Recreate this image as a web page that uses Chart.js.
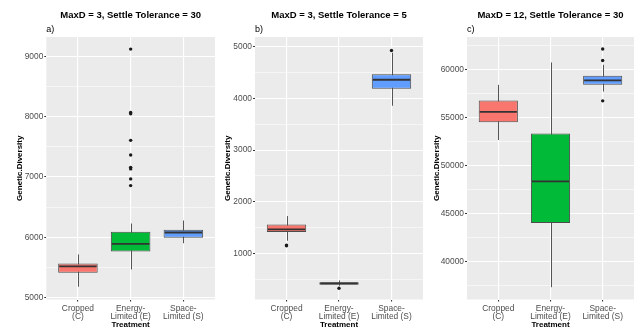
<!DOCTYPE html>
<html>
<head>
<meta charset="UTF-8">
<title>Genetic.Diversity by Treatment</title>
<script src="https://cdn.jsdelivr.net/npm/chart.js@4"></script>
<style>
    body { margin: 0; background: #fff; }
    #wrap { position: relative; width: 638px; height: 329px; }
    canvas { position: absolute; top: 0; }
</style>
</head>
<body>
<div id="wrap">
    <canvas id="chartA" width="219" height="329" style="left:0"></canvas>
    <canvas id="chartB" width="208" height="329" style="left:219px"></canvas>
    <canvas id="chartC" width="211" height="329" style="left:427px"></canvas>
</div>

<script>
    const treatments = [['Cropped', '(C)'], ['Energy-', 'Limited (E)'], ['Space-', 'Limited (S)']];

    // a) MaxD = 3, Settle Tolerance = 30
    const aWhiskerLow = [5177, 5464, 5900];
    const aQ1 = [5410, 5763, 5990];
    const aMedian = [5515, 5890, 6078];
    const aQ3 = [5564, 6090, 6123];
    const aWhiskerHigh = [5713, 6227, 6277];
    const aOutliers = [[], [9124, 8072, 8050, 7608, 7366, 7160, 7134, 6968, 6857], []];
    const aYTicks = [5000, 6000, 7000, 8000, 9000];

    // b) MaxD = 3, Settle Tolerance = 5
    const bWhiskerLow = [1246, 375, 3859];
    const bQ1 = [1413, 393, 4188];
    const bMedian = [1465, 419, 4362];
    const bQ3 = [1562, 444, 4471];
    const bWhiskerHigh = [1723, 477, 4885];
    const bOutliers = [[1161, 1150], [327], [4930]];
    const bYTicks = [1000, 2000, 3000, 4000, 5000];

    // c) MaxD = 12, Settle Tolerance = 30
    const cWhiskerLow = [52670, 37314, 57731];
    const cQ1 = [54518, 44014, 58429];
    const cMedian = [55602, 48353, 58890];
    const cQ3 = [56785, 53360, 59371];
    const cWhiskerHigh = [58429, 60764, 60524];
    const cOutliers = [[], [], [62167, 60974, 56760]];
    const cYTicks = [40000, 45000, 50000, 55000, 60000];

    const fills = ['#F8766D', '#00BA38', '#619CFF'];
    const fontFamily = "'Liberation Sans', Arial, sans-serif";
    const boxWidth = 0.75;

    // panel background, whiskers under the boxes, medians on top
    const boxParts = {
        id: 'boxParts',
        beforeDraw(chart) {
            const {ctx, chartArea: a} = chart;
            ctx.save();
            ctx.fillStyle = '#EBEBEB';
            ctx.fillRect(a.left, a.top, a.right - a.left, a.bottom - a.top);
            ctx.restore();
        },
        beforeDatasetsDraw(chart, args, opts) {
            const {ctx, scales: {x, y}} = chart;
            ctx.save();
            ctx.strokeStyle = '#555';
            ctx.lineWidth = 1;
            opts.low.forEach((lo, i) => {
                const px = Math.round(x.getPixelForValue(i + 1)) + 0.5;
                ctx.beginPath();
                ctx.moveTo(px, y.getPixelForValue(lo));
                ctx.lineTo(px, y.getPixelForValue(opts.high[i]));
                ctx.stroke();
            });
            ctx.restore();
        },
        afterDatasetsDraw(chart, args, opts) {
            const {ctx, scales: {x, y}} = chart;
            ctx.save();
            ctx.strokeStyle = '#333';
            ctx.lineWidth = 1.8;
            opts.med.forEach((m, i) => {
                const py = y.getPixelForValue(m);
                ctx.beginPath();
                ctx.moveTo(x.getPixelForValue(i + 1 - boxWidth / 2) + 1, py);
                ctx.lineTo(x.getPixelForValue(i + 1 + boxWidth / 2) - 1, py);
                ctx.stroke();
            });
            ctx.restore();
        }
    };

    function makeChart(id, p) {
        const step = p.ticks[1] - p.ticks[0];
        const boxes = p.q1.map((q, i) => ({x: i + 1, y: [q, p.q3[i]]}));
        const points = [];
        p.outliers.forEach((list, i) => list.forEach(v => points.push({x: i + 1, y: v})));

        return new Chart(document.getElementById(id), {
            type: 'bar',
            data: {
                datasets: [{
                    type: 'scatter',
                    data: points,
                    pointRadius: 1.7,
                    pointBackgroundColor: '#1a1a1a',
                    pointBorderWidth: 0
                }, {
                    data: boxes,
                    backgroundColor: fills,
                    borderColor: '#4d4d4d',
                    borderWidth: 1,
                    borderSkipped: false,
                    categoryPercentage: 1,
                    barPercentage: boxWidth
                }]
            },
            options: {
                responsive: false,
                animation: false,
                events: [],
                devicePixelRatio: 1,
                layout: {padding: {left: 0, right: p.rightPad, top: 0, bottom: 0}},
                plugins: {
                    legend: {display: false},
                    tooltip: {enabled: false},
                    title: {
                        display: true, text: p.title, fullSize: false, color: '#000',
                        font: {family: fontFamily, size: 9.5, weight: 'bold'},
                        padding: {top: 10, bottom: 2}
                    },
                    subtitle: {
                        display: true, text: p.tag, align: 'start', fullSize: false, color: '#000',
                        font: {family: fontFamily, size: 9},
                        padding: {top: 0.7, bottom: 2.1}
                    },
                    boxParts: {low: p.low, high: p.high, med: p.med}
                },
                scales: {
                    x: {
                        type: 'linear', min: 0.4, max: 3.6, bounds: 'data', offset: false,
                        afterBuildTicks: s => { s.ticks = [1, 2, 3].map(v => ({value: v})); },
                        afterFit: s => { s.height = 29.5; },
                        border: {display: false},
                        grid: {offset: false, color: '#fff', lineWidth: 1.1, tickLength: 2, tickColor: '#333'},
                        ticks: {
                            autoSkip: false, maxRotation: 0, padding: 2.6, color: '#4d4d4d',
                            font: {family: fontFamily, size: 8.4, lineHeight: 0.98},
                            callback: v => treatments[v - 1]
                        },
                        title: {
                            display: true, text: 'Treatment', color: '#000',
                            font: {family: fontFamily, size: 8, weight: 'bold', lineHeight: 1},
                            padding: {top: 0, bottom: 0.3}
                        }
                    },
                    y: {
                        min: p.yMin, max: p.yMax, bounds: 'data',
                        afterBuildTicks: s => {
                            const all = [];
                            p.ticks.forEach(t => {
                                if (t - step / 2 >= p.yMin && !all.includes(t - step / 2)) all.push(t - step / 2);
                                all.push(t);
                                if (t + step / 2 <= p.yMax) all.push(t + step / 2);
                            });
                            s.ticks = all.map(v => ({value: v}));
                        },
                        afterFit: s => { s.width = p.yWidth; },
                        border: {display: false},
                        grid: {
                            color: '#fff',
                            lineWidth: c => p.ticks.includes(c.tick.value) ? 1.1 : 0.55,
                            tickLength: 2,
                            tickColor: c => p.ticks.includes(c.tick.value) ? '#333' : 'rgba(0,0,0,0)'
                        },
                        ticks: {
                            padding: 1, color: '#4d4d4d',
                            font: {family: fontFamily, size: 8.4},
                            callback: v => p.ticks.includes(v) ? String(v) : ''
                        },
                        title: {
                            display: true, text: 'Genetic.Diversity', color: '#000',
                            font: {family: fontFamily, size: 8, weight: 'bold'},
                            padding: {top: p.titlePad, bottom: 0}
                        }
                    }
                }
            },
            plugins: [boxParts]
        });
    }

    makeChart('chartA', {
        title: 'MaxD = 3, Settle Tolerance = 30', tag: 'a)',
        low: aWhiskerLow, q1: aQ1, med: aMedian, q3: aQ3, high: aWhiskerHigh, outliers: aOutliers,
        ticks: aYTicks, yMin: 4965, yMax: 9325, yWidth: 46.3, rightPad: 2, titlePad: 15.2
    });
    makeChart('chartB', {
        title: 'MaxD = 3, Settle Tolerance = 5', tag: 'b)',
        low: bWhiskerLow, q1: bQ1, med: bMedian, q3: bQ3, high: bWhiskerHigh, outliers: bOutliers,
        ticks: bYTicks, yMin: 108, yMax: 5190, yWidth: 36, rightPad: 2, titlePad: 3.7
    });
    makeChart('chartC', {
        title: 'MaxD = 12, Settle Tolerance = 30', tag: 'c)',
        low: cWhiskerLow, q1: cQ1, med: cMedian, q3: cQ3, high: cWhiskerHigh, outliers: cOutliers,
        ticks: cYTicks, yMin: 36030, yMax: 63420, yWidth: 40, rightPad: 1, titlePad: 4.9
    });
</script>
</body>
</html>
